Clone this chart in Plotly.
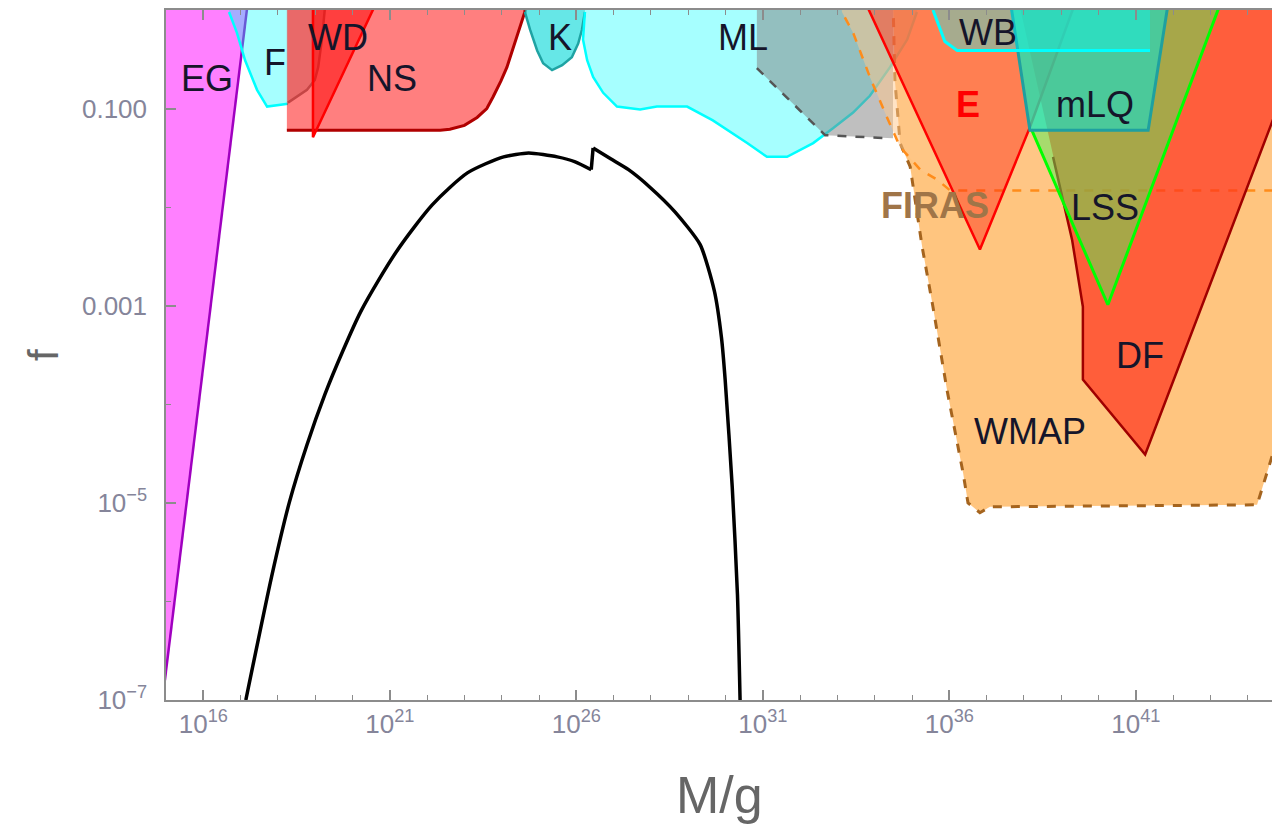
import numpy as np
import plotly.graph_objects as go

# ---- constraint regions, given as (log10 M/g, log10 f) outlines ----
eg_lm = [14.0, 14.97, 17.20, 14.0]
eg_lf = [-6.80, -6.80, 0.10, 0.10]

f_lm = [16.66, 16.69, 16.90, 17.12, 17.44, 17.71, 18.27, 18.27]
f_lf = [0.10, -0.02, -0.23, -0.51, -0.81, -0.98, -0.95, 0.10]

wd_lm = [18.27, 18.78, 18.99, 19.08, 19.18, 19.26, 19.28, 18.27]
wd_lf = [-0.94, -0.81, -0.71, -0.58, -0.30, -0.02, 0.10, 0.10]

ns_lm = [18.24, 22.35, 22.61, 23.00, 23.34, 23.60, 23.77, 23.98, 24.14, 24.41, 24.62, 24.66, 18.24]
ns_lf = [-1.22, -1.22, -1.21, -1.17, -1.09, -1.00, -0.88, -0.72, -0.58, -0.27, -0.02, 0.10, 0.10]

wdr_lm = [18.94, 18.94, 20.67]
wdr_lf = [0.10, -1.29, 0.10]

k_lm = [24.60, 24.62, 24.76, 24.95, 25.11, 25.35, 25.62, 25.88, 26.05, 26.15, 26.23, 26.24]
k_lf = [0.10, -0.02, -0.20, -0.41, -0.54, -0.61, -0.56, -0.48, -0.34, -0.20, -0.02, 0.10]

ml_lm = [26.23, 26.23, 26.18, 26.29, 26.45, 26.72, 27.09, 27.71, 28.16, 28.97, 29.66, 30.58,
         31.11, 31.65, 32.35, 32.88, 33.42, 33.87, 34.41, 34.87, 35.13, 35.16]
ml_lf = [0.10, -0.02, -0.30, -0.51, -0.68, -0.84, -0.98, -1.01, -0.98, -0.98, -1.12, -1.35,
         -1.49, -1.49, -1.35, -1.20, -1.04, -0.87, -0.58, -0.30, -0.02, 0.10]

gml_lm = [30.84, 30.84, 32.67, 34.33, 34.49, 34.49]
gml_lf = [0.10, -0.59, -1.27, -1.30, -1.30, 0.10]

wmap_lm = [34.49, 34.54, 34.68, 34.95, 35.27, 35.56, 35.94, 36.37, 36.50, 36.82, 37.09,
           44.25, 44.65, 45.20, 45.20]
wmap_lf = [0.10, -0.71, -1.35, -1.59, -2.40, -3.01, -3.86, -4.70, -5.00, -5.10, -5.04,
           -5.02, -4.53, -3.90, 0.10]

firas_lm = [33.10, 33.12, 33.42, 33.87, 34.33, 34.68, 35.22, 35.67, 36.02, 45.20, 45.20]
firas_lf = [0.10, -0.02, -0.23, -0.68, -1.09, -1.39, -1.62, -1.72, -1.83, -1.83, 0.10]

df_lm = [37.85, 38.78, 39.29, 39.58, 39.58, 41.25, 43.45, 44.60, 45.90]
df_lf = [0.10, -1.49, -2.33, -3.01, -3.75, -4.51, -2.33, -1.19, 0.10]

e_lm = [33.72, 36.82, 38.16, 39.40]
e_lf = [0.10, -2.43, -1.19, 0.10]

lss_lm = [37.65, 38.20, 40.25, 43.30]
lss_lf = [0.10, -1.21, -2.99, 0.10]

mlq_lm = [37.63, 38.16, 41.33, 41.88]
mlq_lf = [0.10, -1.22, -1.22, 0.10]

wb_lm = [35.52, 35.56, 35.83, 35.88, 36.21, 41.38, 41.38]
wb_lf = [0.10, 0.00, -0.27, -0.32, -0.41, -0.41, 0.10]

# ---- abundance curve of the model (rising arc, step, falling arc) ----
bk_rise_lm = [17.14, 17.83, 18.31, 18.78, 19.26, 19.74, 20.22, 20.70, 21.18, 21.66, 22.13,
              22.61, 23.09, 23.57, 24.05, 24.72, 25.49, 25.97, 26.40]
bk_rise_lf = [-7.00, -5.75, -4.99, -4.41, -3.90, -3.46, -3.06, -2.74, -2.45, -2.20, -1.98,
              -1.80, -1.65, -1.56, -1.49, -1.45, -1.49, -1.54, -1.62]
bk_fall_lm = [26.45, 26.92, 27.40, 27.98, 28.65, 29.32, 29.70, 29.89, 29.99, 30.18, 30.32, 30.39]
bk_fall_lf = [-1.40, -1.51, -1.62, -1.80, -2.05, -2.38, -2.85, -3.32, -3.75, -4.84, -5.93, -7.00]

# ---- labels ----
lab_text = ["EG", "F", "WD", "NS", "K", "ML", "WB", "<b>E</b>", "mLQ", "<b>FIRAS</b>", "LSS", "DF", "WMAP"]
lab_lm = [16.10, 17.92, 19.61, 21.06, 25.56, 30.47, 37.04, 36.50, 39.91, 35.62, 40.17, 41.11, 38.16]
lab_lf = [-0.69, -0.53, -0.28, -0.69, -0.28, -0.28, -0.23, -0.96, -0.96, -1.98, -2.00, -3.50, -4.28]
lab_col = ["#15152a"] * 7 + ["#ff0000", "#15152a", "#a07548", "#15152a", "#15152a", "#15152a"]

# ---- axis ticks ----
x_major = [16, 21, 26, 31, 36, 41]
x_labels = ["10<sup>16</sup>", "10<sup>21</sup>", "10<sup>26</sup>", "10<sup>31</sup>",
            "10<sup>36</sup>", "10<sup>41</sup>"]
y_major = [-7, -5, -3, -1]
y_labels = ["10<sup>\u22127</sup>", "10<sup>\u22125</sup>", "0.001", "0.100"]

fig = go.Figure()


def P(v):
    return 10 ** np.asarray(v, dtype=float)


def region(lm, lf, fill, edge=None, idx=None, width=2.5, dash="solid"):
    fig.add_trace(go.Scatter(x=P(lm), y=P(lf), fill="toself", fillcolor=fill,
                             mode="lines", line=dict(width=0, color=fill),
                             hoverinfo="skip"))
    if edge is not None:
        a, b = idx if idx is not None else (0, len(lm))
        fig.add_trace(go.Scatter(x=P(lm[a:b]), y=P(lf[a:b]), mode="lines",
                                 line=dict(color=edge, width=width, dash=dash),
                                 hoverinfo="skip"))


region(eg_lm, eg_lf, "#ff80ff", "#a000c0", (1, 3))
region(f_lm, f_lf, "rgba(0,255,255,0.35)", "#00ffff", (1, 7))
region(wd_lm, wd_lf, "rgba(128,128,128,0.35)", "#8a8a8a", (0, 7))
region(ns_lm, ns_lf, "rgba(255,0,0,0.5)", "#b00000", (0, 12), width=3)
region(wdr_lm, wdr_lf, "rgba(255,0,0,0.5)", "#ff0000", (0, 3))
region(k_lm, k_lf, "rgba(0,215,215,0.6)", "#1fa3a3", (1, 11))
region(ml_lm, ml_lf, "rgba(0,255,255,0.35)", "#00ffff", (1, 21))
region(gml_lm, gml_lf, "rgba(128,128,128,0.5)", "#555555", (1, 4), dash="dash")
region(wmap_lm, wmap_lf, "rgba(255,140,0,0.5)", "#a5641e", (0, 14), width=3, dash="dash")
region(firas_lm, firas_lf, "rgba(255,200,140,0.5)", "#ff8c1a", (0, 10), dash="dash")
region(df_lm, df_lf, "rgba(255,50,28,0.7)", "#a00000", (1, 9))
region(e_lm, e_lf, "rgba(255,40,20,0.45)", "#ff0000", (0, 4))
region(lss_lm, lss_lf, "rgba(80,240,85,0.5)", "#00ff00", (1, 4), width=3)
region(mlq_lm, mlq_lf, "rgba(0,230,220,0.55)", "#1fa0a0", (0, 4), width=3)
region(wb_lm, wb_lf, "rgba(0,255,255,0.35)", "#00ffff", (1, 6), width=3)

# model curve
line_k = dict(color="black", width=3.5, shape="spline", smoothing=0.6)
fig.add_trace(go.Scatter(x=P(bk_rise_lm), y=P(bk_rise_lf), mode="lines", line=line_k, hoverinfo="skip"))
fig.add_trace(go.Scatter(x=P([bk_rise_lm[-1], bk_fall_lm[0]]), y=P([bk_rise_lf[-1], bk_fall_lf[0]]),
                         mode="lines", line=dict(color="black", width=3.5), hoverinfo="skip"))
fig.add_trace(go.Scatter(x=P(bk_fall_lm), y=P(bk_fall_lf), mode="lines", line=line_k, hoverinfo="skip"))

for t, xm, yf, c in zip(lab_text, lab_lm, lab_lf, lab_col):
    fig.add_annotation(x=xm, y=yf, text=t, showarrow=False, xanchor="center", yanchor="middle",
                       font=dict(family="Liberation Sans, Arial", size=36, color=c))

axis_col = "#8c8c8c"
tick_font = dict(family="Liberation Sans, Arial", size=26, color="#85859a")

fig.update_xaxes(type="log", range=[15, 44.65], showline=True, linecolor=axis_col, linewidth=1.5,
                 mirror="ticks", ticks="inside", ticklen=10, tickwidth=1.5, tickcolor=axis_col,
                 tickvals=P(x_major), ticktext=x_labels, tickfont=tick_font,
                 ticklabelstandoff=0, showgrid=False, zeroline=False,
                 minor=dict(tickmode="array",
                            tickvals=P([k for k in range(15, 45) if k not in x_major]),
                            ticks="inside", ticklen=5, tickwidth=1.2, tickcolor=axis_col,
                            showgrid=False))
fig.update_yaxes(type="log", range=[-7, 0], showline=True, linecolor=axis_col, linewidth=1.5,
                 mirror=False, ticks="inside", ticklen=10, tickwidth=1.5, tickcolor=axis_col,
                 tickvals=P(y_major), ticktext=y_labels, tickfont=tick_font,
                 ticklabelstandoff=12, showgrid=False, zeroline=False,
                 minor=dict(tickmode="array", tickvals=P([-6, -4, -2, 0]),
                            ticks="inside", ticklen=5, tickwidth=1.2, tickcolor=axis_col,
                            showgrid=False))

fig.add_annotation(xref="paper", yref="paper", x=0, y=0.5, xshift=-123, text="f",
                   textangle=-90, showarrow=False, xanchor="center", yanchor="middle",
                   font=dict(family="Liberation Sans, Arial", size=42, color="#666666"))
fig.add_annotation(xref="paper", yref="paper", x=0.5, y=0, yshift=-95, text="M/g",
                   showarrow=False, xanchor="center", yanchor="middle",
                   font=dict(family="Liberation Sans, Arial", size=52, color="#666666"))

fig.update_layout(width=1272, height=829, margin=dict(l=166, r=0, t=10, b=129),
                  plot_bgcolor="white", paper_bgcolor="white", showlegend=False)

fig.write_html("out.html")
